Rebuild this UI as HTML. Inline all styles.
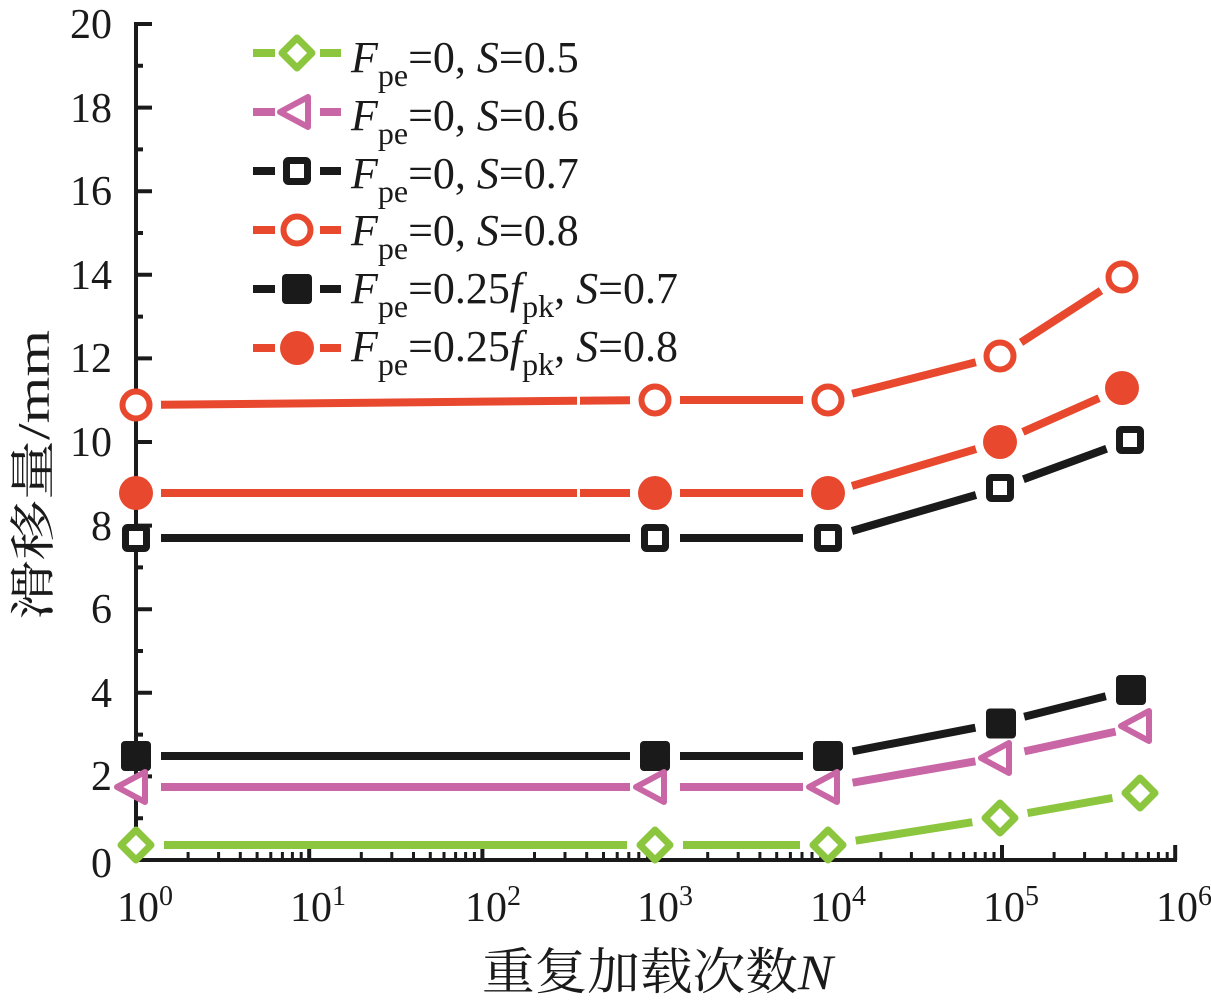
<!DOCTYPE html>
<html><head><meta charset="utf-8"><style>
html,body{margin:0;padding:0;background:#fff;}
svg{display:block;}
text{font-family:"Liberation Serif","Noto Serif CJK SC",serif;fill:#1a1a1a;}
</style></head><body>
<svg width="1211" height="1006" viewBox="0 0 1211 1006" xmlns="http://www.w3.org/2000/svg">
<!-- axes -->
<g stroke="#1a1a1a" stroke-width="4" fill="none">
<line x1="136" y1="22" x2="136" y2="862"/>
<line x1="134" y1="860" x2="1177" y2="860"/>
<path d="M136 24H152M136 107.6H152M136 191.2H152M136 274.8H152M136 358.4H152M136 442H152M136 525.6H152M136 609.2H152M136 692.8H152M136 776.4H152"/>
<path d="M136 65.8H143M136 149.4H143M136 233H143M136 316.6H143M136 400.2H143M136 483.8H143M136 567.4H143M136 651H143M136 734.6H143M136 818.2H143"/>
<path d="M309.2 860V845M482.4 860V845M655.6 860V845M828.8 860V845M1002 860V845M1175.2 860V845"/>
</g>
<g stroke="#1a1a1a" stroke-width="3" fill="none">
<path d="M188.1 860V852M218.6 860V852M240.3 860V852M257.1 860V852M270.8 860V852M282.4 860V852M292.4 860V852M301.2 860V852
M361.3 860V852M391.8 860V852M413.5 860V852M430.3 860V852M444 860V852M455.6 860V852M465.6 860V852M474.4 860V852
M534.5 860V852M565 860V852M586.7 860V852M603.5 860V852M617.2 860V852M628.8 860V852M638.8 860V852M647.6 860V852
M707.7 860V852M738.2 860V852M759.9 860V852M776.7 860V852M790.4 860V852M802 860V852M812 860V852M820.8 860V852
M880.9 860V852M911.4 860V852M933.1 860V852M949.9 860V852M963.6 860V852M975.2 860V852M985.2 860V852M994 860V852
M1054.1 860V852M1084.6 860V852M1106.3 860V852M1123.1 860V852M1136.8 860V852M1148.4 860V852M1158.4 860V852M1167.2 860V852"/>
</g>

<!-- y tick labels -->
<g font-size="42" text-anchor="end">
<text x="112" y="38">20</text>
<text x="112" y="122">18</text>
<text x="112" y="205">16</text>
<text x="112" y="289">14</text>
<text x="112" y="372">12</text>
<text x="112" y="456">10</text>
<text x="112" y="540">8</text>
<text x="112" y="623">6</text>
<text x="112" y="707">4</text>
<text x="112" y="790">2</text>
<text x="112" y="877">0</text>
</g>
<!-- x tick labels -->
<g font-size="42">
<text x="117" y="921">10<tspan font-size="28" dy="-16">0</tspan></text>
<text x="290" y="921">10<tspan font-size="28" dy="-16">1</tspan></text>
<text x="465" y="921">10<tspan font-size="28" dy="-16">2</tspan></text>
<text x="637" y="921">10<tspan font-size="28" dy="-16">3</tspan></text>
<text x="810" y="921">10<tspan font-size="28" dy="-16">4</tspan></text>
<text x="983" y="921">10<tspan font-size="28" dy="-16">5</tspan></text>
<text x="1156" y="921">10<tspan font-size="28" dy="-16">6</tspan></text>
</g>

<!-- axis titles -->
<text x="482" y="989" font-size="50" textLength="351" lengthAdjust="spacingAndGlyphs">重复加载次数<tspan font-style="italic">N</tspan></text>
<text transform="translate(49,475) rotate(-90)" text-anchor="middle" font-size="46" textLength="290" lengthAdjust="spacingAndGlyphs">滑移量/mm</text>

<!-- series lines -->
<g stroke-width="8" fill="none" stroke-linecap="butt">
<g stroke="#e8482d">
<line x1="161" y1="404.8" x2="630" y2="400.2"/>
<line x1="680" y1="400" x2="803" y2="400"/>
<line x1="852.2" y1="393.8" x2="975.8" y2="362.2"/>
<line x1="1021" y1="342.4" x2="1101" y2="290.6"/>
</g>
<g stroke="#e8482d">
<line x1="161" y1="493" x2="630" y2="493"/>
<line x1="680" y1="493" x2="803" y2="493"/>
<line x1="852" y1="485.9" x2="976" y2="449.1"/>
<line x1="1022.9" y1="431.9" x2="1099.1" y2="398.1"/>
</g>
<g stroke="#1a1a1a">
<line x1="161" y1="538" x2="630" y2="538"/>
<line x1="680" y1="538" x2="803" y2="538"/>
<line x1="852" y1="531" x2="976" y2="495"/>
<line x1="1023.4" y1="479.3" x2="1106.6" y2="448.7"/>
</g>
<g stroke="#1a1a1a">
<line x1="161" y1="756" x2="630" y2="756"/>
<line x1="680" y1="756" x2="803" y2="756"/>
<line x1="852.6" y1="751.3" x2="975.4" y2="727.7"/>
<line x1="1024.2" y1="716.8" x2="1105.8" y2="696.2"/>
</g>
<g stroke="#c966a5">
<line x1="161" y1="787" x2="630" y2="787"/>
<line x1="680" y1="787" x2="803" y2="787"/>
<line x1="852.6" y1="782.7" x2="975.4" y2="761.3"/>
<line x1="1024.4" y1="751.4" x2="1115.6" y2="731.6"/>
</g>
<g stroke="#8cc63e">
<line x1="164" y1="845" x2="627" y2="845"/>
<line x1="683" y1="845" x2="800" y2="845"/>
<line x1="855.7" y1="840.7" x2="972.3" y2="822.2"/>
<line x1="1027.6" y1="813.1" x2="1112.4" y2="797.9"/>
</g>
</g>
<rect x="577" y="394" width="3" height="14" fill="#fff"/>
<rect x="577" y="487" width="3" height="12" fill="#fff"/>

<!-- markers -->
<g fill="#fff" stroke="#e8482d" stroke-width="6">
<circle cx="136" cy="405" r="13.5"/>
<circle cx="655" cy="400" r="13.5"/>
<circle cx="828" cy="400" r="13.5"/>
<circle cx="1000" cy="356" r="13.5"/>
<circle cx="1122" cy="277" r="13.5"/>
</g>
<g fill="#e8482d">
<circle cx="136" cy="493" r="17"/>
<circle cx="655" cy="493" r="17"/>
<circle cx="828" cy="493" r="17"/>
<circle cx="1000" cy="442" r="17"/>
<circle cx="1122" cy="388" r="17"/>
</g>
<g fill="#fff" stroke="#1a1a1a" stroke-width="7">
<rect x="125.5" y="527.5" width="21" height="21" rx="2"/>
<rect x="644.5" y="527.5" width="21" height="21" rx="2"/>
<rect x="817.5" y="527.5" width="21" height="21" rx="2"/>
<rect x="989.5" y="477.5" width="21" height="21" rx="2"/>
<rect x="1119.5" y="429.5" width="21" height="21" rx="2"/>
</g>
<g fill="#1a1a1a">
<rect x="121" y="741" width="30" height="30" rx="4"/>
<rect x="640" y="741" width="30" height="30" rx="4"/>
<rect x="813" y="741" width="30" height="30" rx="4"/>
<rect x="986" y="708.5" width="30" height="30" rx="4"/>
<rect x="1116" y="675" width="30" height="30" rx="4"/>
</g>
<g fill="#fff" stroke="#c966a5" stroke-width="6" stroke-linejoin="round">
<path d="M117 787L145 772L145 802Z"/>
<path d="M636 787L664 772L664 802Z"/>
<path d="M809 787L837 772L837 802Z"/>
<path d="M981 758L1009 743L1009 773Z"/>
<path d="M1121 726L1149 711L1149 741Z"/>
</g>
<g fill="#fff" stroke="#8cc63e" stroke-width="7" stroke-linejoin="round">
<path d="M136 830L151 845L136 860L121 845Z"/>
<path d="M655 830L670 845L655 860L640 845Z"/>
<path d="M828 830L843 845L828 860L813 845Z"/>
<path d="M1000 803L1015 818L1000 833L985 818Z"/>
<path d="M1140 778L1155 793L1140 808L1125 793Z"/>
</g>

<!-- legend -->
<g stroke-width="8">
<path d="M253 53H275M320 53H341" stroke="#8cc63e"/>
<path d="M253 112H275M320 112H341" stroke="#c966a5"/>
<path d="M253 171H275M320 171H341" stroke="#1a1a1a"/>
<path d="M253 230H275M320 230H341" stroke="#e8482d"/>
<path d="M253 289H275M320 289H341" stroke="#1a1a1a"/>
<path d="M253 348H275M320 348H341" stroke="#e8482d"/>
</g>
<path d="M297 38L312 53L297 68L282 53Z" fill="#fff" stroke="#8cc63e" stroke-width="7" stroke-linejoin="round"/>
<path d="M280 112L308 97L308 127Z" fill="#fff" stroke="#c966a5" stroke-width="6" stroke-linejoin="round"/>
<rect x="286.5" y="160.5" width="21" height="21" rx="2" fill="#fff" stroke="#1a1a1a" stroke-width="7"/>
<circle cx="297" cy="230" r="13.5" fill="#fff" stroke="#e8482d" stroke-width="6"/>
<rect x="282" y="274" width="30" height="30" rx="4" fill="#1a1a1a"/>
<circle cx="297" cy="348" r="17" fill="#e8482d"/>

<g font-size="44">
<text x="351" y="72"><tspan font-style="italic">F</tspan><tspan font-size="32" dy="14">pe</tspan><tspan dy="-14">=0, </tspan><tspan font-style="italic">S</tspan>=0.5</text>
<text x="351" y="130"><tspan font-style="italic">F</tspan><tspan font-size="32" dy="14">pe</tspan><tspan dy="-14">=0, </tspan><tspan font-style="italic">S</tspan>=0.6</text>
<text x="351" y="188"><tspan font-style="italic">F</tspan><tspan font-size="32" dy="14">pe</tspan><tspan dy="-14">=0, </tspan><tspan font-style="italic">S</tspan>=0.7</text>
<text x="351" y="245"><tspan font-style="italic">F</tspan><tspan font-size="32" dy="14">pe</tspan><tspan dy="-14">=0, </tspan><tspan font-style="italic">S</tspan>=0.8</text>
<text x="351" y="303"><tspan font-style="italic">F</tspan><tspan font-size="32" dy="14">pe</tspan><tspan dy="-14">=0.25</tspan><tspan font-style="italic">f</tspan><tspan font-size="32" dy="14">pk</tspan><tspan dy="-14">, </tspan><tspan font-style="italic">S</tspan>=0.7</text>
<text x="351" y="361"><tspan font-style="italic">F</tspan><tspan font-size="32" dy="14">pe</tspan><tspan dy="-14">=0.25</tspan><tspan font-style="italic">f</tspan><tspan font-size="32" dy="14">pk</tspan><tspan dy="-14">, </tspan><tspan font-style="italic">S</tspan>=0.8</text>
</g>
</svg>
</body></html>
